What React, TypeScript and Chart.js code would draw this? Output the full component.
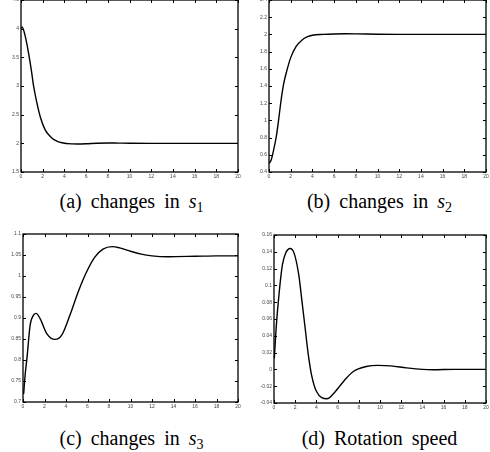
import React, { useEffect, useRef } from "react";
import { Chart, registerables } from "chart.js";

Chart.register(...registerables);

// Panel (a): changes in s1
const tA = [0, 0.1, 0.4, 0.7, 0.95, 1.16, 1.47, 1.78, 2.24, 2.86, 3.3, 3.78, 4.7, 5.2, 6.0, 7.0, 8.0, 9.0, 10.0, 12.0, 14.0, 16.0, 18.0, 20.0];
const sA = [4.0, 4.03, 3.86, 3.57, 3.28, 3.0, 2.7, 2.46, 2.23, 2.09, 2.04, 2.01, 1.99, 1.988, 1.992, 2.002, 2.006, 2.004, 2.002, 2.0, 2.0, 2.0, 2.0, 2.0];

// Panel (b): changes in s2
const tB = [0, 0.2, 0.4, 0.67, 0.88, 1.12, 1.36, 1.67, 2.0, 2.5, 3.0, 3.5, 4.0, 5.0, 6.0, 7.0, 8.0, 10.0, 12.0, 14.0, 16.0, 18.0, 20.0];
const sB = [0.5, 0.54, 0.64, 0.81, 1.0, 1.24, 1.43, 1.59, 1.73, 1.86, 1.93, 1.97, 1.99, 2.0, 2.005, 2.007, 2.006, 2.002, 2.0, 2.0, 2.0, 2.0, 2.0];

// Panel (c): changes in s3
const tC = [0.06, 0.2, 0.37, 0.67, 0.98, 1.23, 1.6, 2.21, 2.98, 3.6, 4.37, 5.13, 5.9, 6.68, 7.44, 8.3, 9.0, 10.0, 11.0, 12.0, 13.5, 16.0, 18.0, 20.0];
const sC = [0.719, 0.765, 0.805, 0.884, 0.907, 0.911, 0.898, 0.863, 0.849, 0.859, 0.907, 0.962, 1.009, 1.045, 1.064, 1.07, 1.067, 1.059, 1.052, 1.048, 1.046, 1.047, 1.048, 1.048];

// Panel (d): rotation speed
const tD = [0.03, 0.2, 0.5, 0.8, 1.12, 1.52, 1.88, 2.33, 2.64, 2.94, 3.24, 3.55, 4.0, 5.0, 5.67, 6.58, 7.48, 8.7, 9.8, 11.0, 12.5, 14.0, 15.0, 17.0, 20.0];
const sD = [0.013, 0.049, 0.093, 0.125, 0.139, 0.144, 0.139, 0.113, 0.081, 0.049, 0.017, -0.007, -0.026, -0.035, -0.028, -0.014, -0.0025, 0.0034, 0.0048, 0.0042, 0.0018, 0.0, -0.0004, 0.0, 0.0];

const xTicks = { min: 0, max: 20, step: 2 };
const yTicksA = { min: 1.5, max: 4.5, step: 0.5 };
const yTicksB = { min: 0.4, max: 2.4, step: 0.2 };
const yTicksC = { min: 0.7, max: 1.1, step: 0.05 };
const yTicksD = { min: -0.04, max: 0.16, step: 0.02 };

type Rect = { l: number; t: number; r: number; b: number };
type Rng = { min: number; max: number; step: number };

const YW = 22;
const XH = 12;
const PADT = 6;
const PADR = 6;

const boxTicks = {
  id: "boxTicks",
  afterDraw(chart: any) {
    const { ctx, chartArea } = chart;
    const { left, right, top, bottom } = chartArea;
    const xs = chart.scales.x;
    const ys = chart.scales.y;
    const tl = 3;
    ctx.save();
    ctx.strokeStyle = "#000";
    ctx.lineWidth = 1;
    ctx.beginPath();
    xs.ticks.forEach((tk: any) => {
      const px = Math.round(xs.getPixelForValue(tk.value)) + 0.5;
      ctx.moveTo(px, bottom);
      ctx.lineTo(px, bottom - tl);
      ctx.moveTo(px, top);
      ctx.lineTo(px, top + tl);
    });
    ys.ticks.forEach((tk: any) => {
      const py = Math.round(ys.getPixelForValue(tk.value)) + 0.5;
      ctx.moveTo(left, py);
      ctx.lineTo(left + tl, py);
      ctx.moveTo(right, py);
      ctx.lineTo(right - tl, py);
    });
    ctx.stroke();
    ctx.lineWidth = 1.3;
    ctx.strokeRect(left, top, right - left, bottom - top);
    ctx.restore();
  },
};

function fmt(v: number) {
  return String(parseFloat(Number(v).toFixed(4)));
}

function Panel({ rect, xs, ys, yr }: { rect: Rect; xs: number[]; ys: number[]; yr: Rng }) {
  const ref = useRef<HTMLCanvasElement>(null);
  const w = Math.round(rect.r - rect.l + YW + PADR);
  const h = Math.round(rect.b - rect.t + PADT + XH);
  useEffect(() => {
    if (!ref.current) return;
    const data = xs.map((x, i) => ({ x, y: ys[i] }));
    const font = { family: "'Liberation Sans', Arial, sans-serif", size: 5 };
    const chart = new Chart(ref.current, {
      type: "line",
      data: {
        datasets: [
          {
            data,
            borderColor: "#000",
            borderWidth: 1.4,
            pointRadius: 0,
            cubicInterpolationMode: "monotone",
            fill: false,
          },
        ],
      },
      options: {
        animation: false,
        responsive: false,
        devicePixelRatio: 1,
        layout: { padding: { left: 0, top: PADT, right: PADR, bottom: 0 } },
        plugins: { legend: { display: false }, tooltip: { enabled: false } },
        scales: {
          x: {
            type: "linear",
            min: xTicks.min,
            max: xTicks.max,
            grid: { display: false, drawTicks: false },
            border: { display: false },
            ticks: { stepSize: xTicks.step, font, color: "#444", padding: 2, autoSkip: false, maxRotation: 0, callback: (v: any) => fmt(v) },
            afterFit: (s: any) => { s.height = XH; },
          },
          y: {
            type: "linear",
            min: yr.min,
            max: yr.max,
            grid: { display: false, drawTicks: false },
            border: { display: false },
            ticks: { stepSize: yr.step, font, color: "#444", padding: 2, autoSkip: false, callback: (v: any) => fmt(v) },
            afterFit: (s: any) => { s.width = YW; },
          },
        },
      } as any,
      plugins: [boxTicks],
    });
    return () => chart.destroy();
  }, []);
  return (
    <canvas
      ref={ref}
      width={w}
      height={h}
      style={{ position: "absolute", left: Math.round(rect.l - YW), top: Math.round(rect.t - PADT), width: w, height: h }}
    />
  );
}

const capStyle: React.CSSProperties = {
  position: "absolute",
  width: 245,
  textAlign: "center",
  fontFamily: '"Liberation Serif", "Times New Roman", serif',
  fontSize: 20,
  lineHeight: "20px",
  wordSpacing: 4,
  color: "#000",
  whiteSpace: "nowrap",
};

const subStyle: React.CSSProperties = { fontSize: 14, verticalAlign: -4, lineHeight: 0 };

export default function App() {
  return (
    <div style={{ position: "absolute", left: 0, top: 0, width: 490, height: 452, background: "#fff", overflow: "hidden" }}>
      <Panel rect={{ l: 21, t: 0, r: 238, b: 172 }} xs={tA} ys={sA} yr={yTicksA} />
      <Panel rect={{ l: 269, t: 0, r: 486, b: 172 }} xs={tB} ys={sB} yr={yTicksB} />
      <Panel rect={{ l: 23, t: 234, r: 238, b: 402 }} xs={tC} ys={sC} yr={yTicksC} />
      <Panel rect={{ l: 274, t: 235, r: 486, b: 403 }} xs={tD} ys={sD} yr={yTicksD} />
      <div style={{ ...capStyle, left: 9, top: 191 }}>
        (a) changes in <i>s</i><span style={subStyle}>1</span>
      </div>
      <div style={{ ...capStyle, left: 257, top: 191 }}>
        (b) changes in <i>s</i><span style={subStyle}>2</span>
      </div>
      <div style={{ ...capStyle, left: 9, top: 428 }}>
        (c) changes in <i>s</i><span style={subStyle}>3</span>
      </div>
      <div style={{ ...capStyle, left: 257, top: 428 }}>
        (d) Rotation speed
      </div>
    </div>
  );
}
